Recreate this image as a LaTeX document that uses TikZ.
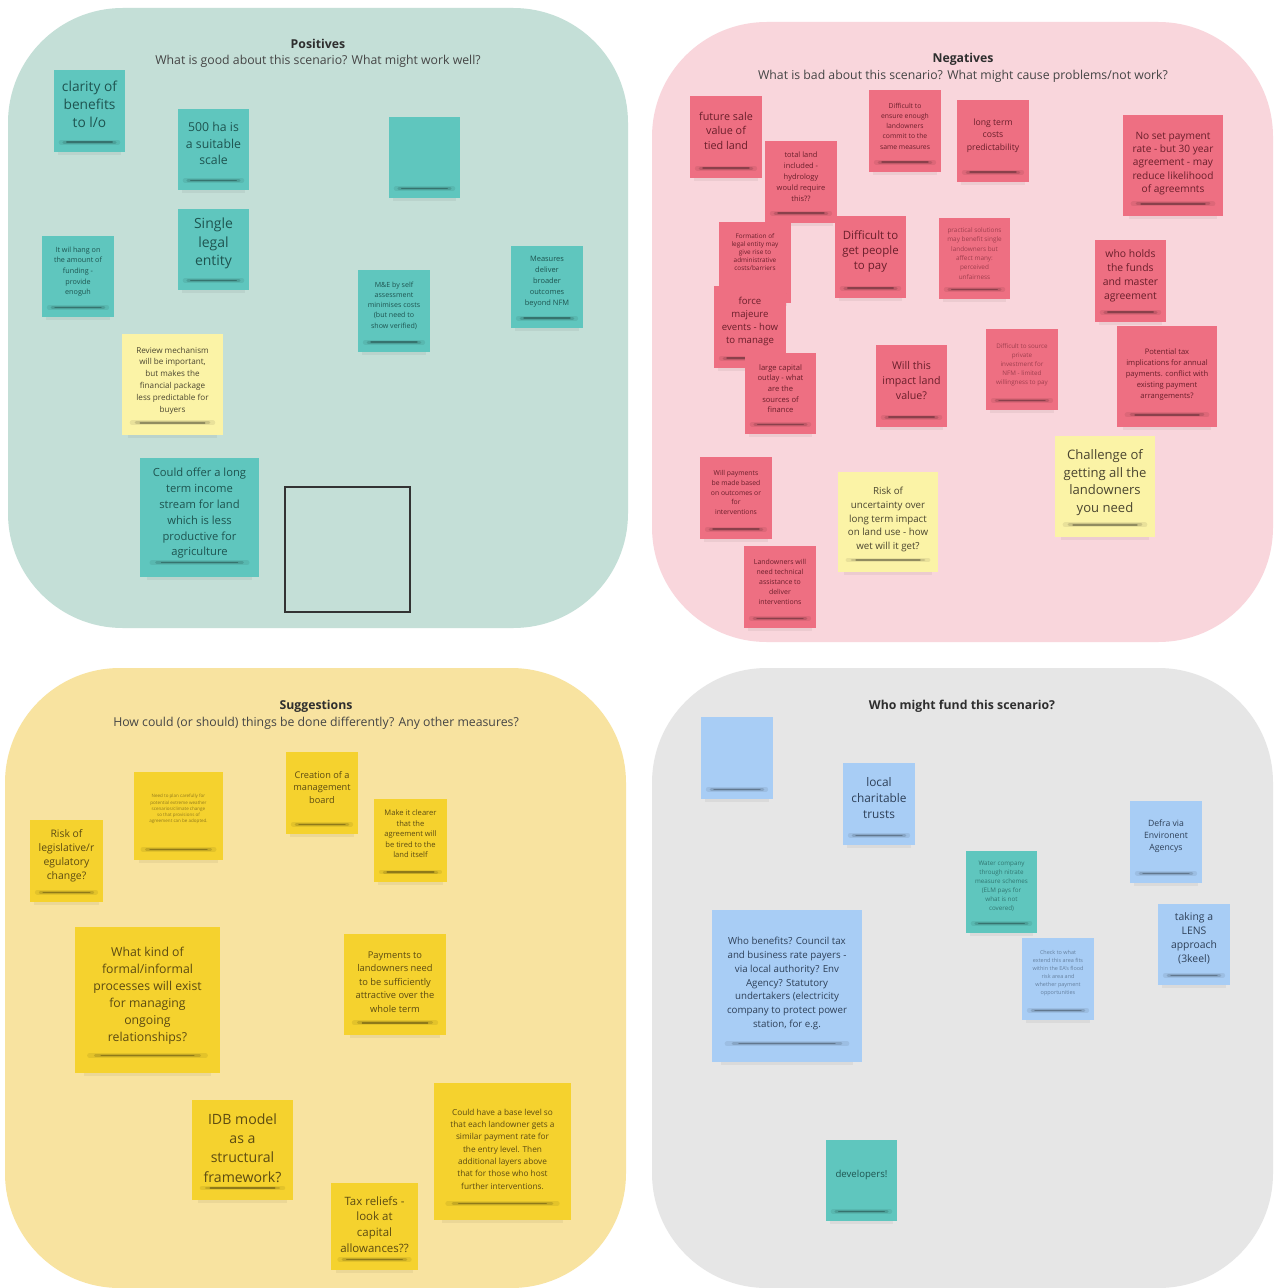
\documentclass[tikz,border=0pt]{standalone}
\usepackage{fontspec}
\setmainfont{Open Sans}
\definecolor{bgPos}{HTML}{C4DFD7}
\definecolor{bgNeg}{HTML}{F9D6DC}
\definecolor{bgSug}{HTML}{F8E3A0}
\definecolor{bgFund}{HTML}{E6E6E6}
\definecolor{tealN}{HTML}{5FC6BE}
\definecolor{tealT}{HTML}{1E5450}
\definecolor{pinkN}{HTML}{EE6F82}
\definecolor{pinkT}{HTML}{6A1F2B}
\definecolor{yelN}{HTML}{F5D22E}
\definecolor{yelT}{HTML}{5C4B12}
\definecolor{lyelN}{HTML}{FBF3A6}
\definecolor{lyelT}{HTML}{4A4530}
\definecolor{blueN}{HTML}{A8CDF5}
\definecolor{blueT}{HTML}{2E4058}
\definecolor{titleC}{HTML}{2E2E2E}
\definecolor{subC}{HTML}{454545}
\tikzset{
  teal fill/.style={fill=tealN},
  teal ink/.style={text=tealT, align=center, inner sep=0pt},
  tealf fill/.style={fill=tealN},
  tealf ink/.style={text=tealT!70!tealN, align=center, inner sep=0pt},
  pink fill/.style={fill=pinkN},
  pink ink/.style={text=pinkT, align=center, inner sep=0pt},
  pinkf fill/.style={fill=pinkN},
  pinkf ink/.style={text=pinkT!60!pinkN, align=center, inner sep=0pt},
  yel fill/.style={fill=yelN},
  yel ink/.style={text=yelT, align=center, inner sep=0pt},
  yelf fill/.style={fill=yelN},
  yelf ink/.style={text=yelT!65!yelN, align=center, inner sep=0pt},
  lyel fill/.style={fill=lyelN},
  lyel ink/.style={text=lyelT, align=center, inner sep=0pt},
  blue fill/.style={fill=blueN},
  blue ink/.style={text=blueT, align=center, inner sep=0pt},
  bluef fill/.style={fill=blueN},
  bluef ink/.style={text=blueT!55!blueN, align=center, inner sep=0pt},
  panel/.style={rounded corners=86pt},
  ptitle/.style={text=titleC, font=\fontsize{9.2}{11}\selectfont\bfseries, inner sep=0pt},
  psub/.style={text=subC, font=\fontsize{9.2}{11}\selectfont, inner sep=0pt},
  shadowa/.style={line cap=round, line width=3.6pt, black, opacity=0.07},
  shadowb/.style={line cap=round, line width=2.2pt, black, opacity=0.13},
  shadowc/.style={line cap=round, line width=1.0pt, black, opacity=0.28},
}
% \snote{name}{kind}{x1}{y1}{x2}{y2}{text y}{font}{text}
\newcommand\snote[9]{%
  \fill[#2 fill] (#3,#4) rectangle (#5,#6);
  \fill[black, opacity=0.05] ({#3+0.06*(#5-#3)},#6) rectangle ({#5-0.06*(#5-#3)},{#6+3});
  \draw[shadowa] ({#3+0.10*(#5-#3)},{#6-0.12*(#6-#4)}) -- ({#5-0.10*(#5-#3)},{#6-0.12*(#6-#4)});
  \draw[shadowb] ({#3+0.14*(#5-#3)},{#6-0.12*(#6-#4)}) -- ({#5-0.14*(#5-#3)},{#6-0.12*(#6-#4)});
  \draw[shadowc] ({#3+0.18*(#5-#3)},{#6-0.12*(#6-#4)}) -- ({#5-0.18*(#5-#3)},{#6-0.12*(#6-#4)});
  \node[#2 ink, font=#8] (#1) at ({(#3+#5)/2},#7) {#9};
}
\newcommand\fs[2]{\fontsize{#1}{#2}\selectfont}
\begin{document}
\begin{tikzpicture}[x=0.75pt,y=-0.75pt]
\useasboundingbox (0,0) rectangle (1275,1288);
\fill[white] (0,0) rectangle (1275,1288);
% panels
\fill[bgPos, panel] (8,8) rectangle (628,628);
\fill[bgNeg, panel] (652,22) rectangle (1273,642);
\fill[bgSug, panel] (5,668) rectangle (626,1288);
\fill[bgFund, panel] (652,668) rectangle (1273,1288);
% titles
\node[ptitle] (tpos) at (318,44) {Positives};
\node[psub] (spos) at (318,61) {What is good about this scenario? What might work well?};
\node[ptitle] (tneg) at (963,59) {Negatives};
\node[psub] (sneg) at (963,76) {What is bad about this scenario? What might cause problems/not work?};
\node[ptitle] (tsug) at (316,706) {Suggestions};
\node[psub] (ssug) at (316,723) {How could (or should) things be done differently? Any other measures?};
\node[ptitle] (tfund) at (962,706) {Who might fund this scenario?};
% ---------- Positives
\snote{p1}{teal}{54}{70}{125}{152}{104}{\fs{10.3}{13.5}}{clarity of\\benefits\\to l/o}
\snote{p2}{teal}{178}{109}{249}{190}{143.5}{\fs{9.2}{12.4}}{500 ha is\\a suitable\\scale}
\snote{p3}{teal}{389}{117}{460}{198}{150}{\fs{9}{12}}{}
\snote{p4}{teal}{178}{209}{249}{290}{243.5}{\fs{10.5}{13.9}}{Single\\legal\\entity}
\snote{p5}{teal}{42}{236}{114}{317}{271.5}{\fs{5.4}{8}}{It wil hang on\\the amount of\\funding -\\provide\\enoguh}
\snote{p6}{teal}{358}{270}{430}{352}{305.5}{\fs{5.3}{7.7}}{M\&E by self\\assessment\\minimises costs\\(but need to\\show verified)}
\snote{p7}{teal}{511}{246}{583}{328}{282}{\fs{5.6}{8.2}}{Measures\\deliver\\broader\\outcomes\\beyond NFM}
\snote{p8}{lyel}{122}{334}{223}{435}{380.5}{\fs{6.1}{8.85}}{Review mechanism\\will be important,\\but makes the\\financial package\\less predictable for\\buyers}
\snote{p9}{teal}{140}{458}{259}{577}{513.5}{\fs{8.4}{11.85}}{Could offer a long\\term income\\stream for land\\which is less\\productive for\\agriculture}
\draw[line width=1.1pt, black!80] (285,487) rectangle (410,612);
% ---------- Negatives
\snote{n1}{pink}{690}{96}{762}{178}{130.5}{\fs{8.1}{10.9}}{future sale\\value of\\tied land}
\snote{n2}{pink}{765}{141}{837}{223}{177}{\fs{5.6}{8.2}}{total land\\included -\\hydrology\\would require\\this??}
\snote{n3}{pink}{869}{90}{941}{172}{126}{\fs{5.1}{7.7}}{Difficult to\\ensure enough\\landowners\\commit to the\\same measures}
\snote{n4}{pink}{957}{100}{1029}{182}{135.5}{\fs{6.5}{9.2}}{long term\\costs\\predictability}
\snote{n5}{pink}{1123}{115}{1223}{216}{163.5}{\fs{7.6}{10}}{No set payment\\rate - but 30 year\\agreement - may\\reduce likelihood\\of agreemnts}
\snote{n6}{pink}{719}{222}{791}{303}{252}{\fs{4.8}{6.1}}{Formation of\\legal entity may\\give rise to\\administrative\\costs/barriers}
\snote{n7}{pink}{835}{216}{906}{298}{251.5}{\fs{8.6}{11.6}}{Difficult to\\get people\\to pay}
\snote{n8}{pinkf}{939}{218}{1010}{299}{253.5}{\fs{4.8}{7}}{practical solutions\\may benefit single\\landowners but\\affect many:\\perceived\\unfairness}
\snote{n9}{pink}{1095}{240}{1166}{322}{276}{\fs{7.8}{10.5}}{who holds\\the funds\\and master\\agreement}
\snote{n10}{pink}{714}{286}{786}{368}{321.5}{\fs{7.2}{9.8}}{force\\majeure\\events - how\\to manage}
\snote{n11}{pink}{745}{353}{816}{434}{388.5}{\fs{5.7}{8}}{large capital\\outlay - what\\are the\\sources of\\finance}
\snote{n12}{pink}{876}{345}{947}{427}{380.5}{\fs{8}{10.9}}{Will this\\impact land\\value?}
\snote{n13}{pinkf}{986}{329}{1058}{410}{365}{\fs{4.7}{6.8}}{Difficult to source\\private\\investment for\\NFM - limited\\willingness to pay}
\snote{n14}{pink}{1117}{326}{1217}{427}{374.5}{\fs{5.7}{8.1}}{Potential tax\\implications for annual\\payments. conflict with\\existing payment\\arrangements?}
\snote{n15}{pink}{700}{457}{772}{539}{492.5}{\fs{5.1}{7.3}}{Will payments\\be made based\\on outcomes or\\for\\interventions}
\snote{n16}{lyel}{838}{472}{938}{572}{519.5}{\fs{7.3}{10.2}}{Risk of\\uncertainty over\\long term impact\\on land use - how\\wet will it get?}
\snote{n17}{lyel}{1055}{436}{1155}{537}{482.5}{\fs{9.8}{13.3}}{Challenge of\\getting all the\\landowners\\you need}
\snote{n18}{pink}{744}{546}{816}{628}{582}{\fs{5.2}{7.5}}{Landowners will\\need technical\\assistance to\\deliver\\interventions}
% ---------- Suggestions
\snote{s1}{yel}{30}{820}{103}{902}{856}{\fs{7.8}{10.5}}{Risk of\\legislative/r\\egulatory\\change?}
\snote{s2}{yelf}{134}{772}{223}{860}{809}{\fs{3.4}{4.6}}{Need to plan carefully for\\potential extreme weather\\scenarios/climate change\\so that provisions of\\agreement can be adopted.}
\snote{s3}{yel}{286}{752}{358}{834}{787.5}{\fs{6.9}{9.4}}{Creation of a\\management\\board}
\snote{s4}{yel}{374}{799}{447}{882}{834}{\fs{5.7}{7.9}}{Make it clearer\\that the\\agreement will\\be tired to the\\land itself}
\snote{s5}{yel}{75}{927}{220}{1073}{995.5}{\fs{9.2}{12.8}}{What kind of\\formal/informal\\processes will exist\\for managing\\ongoing\\relationships?}
\snote{s6}{yel}{344}{934}{446}{1035}{982}{\fs{7}{10.2}}{Payments to\\landowners need\\to be sufficiently\\attractive over the\\whole term}
\snote{s7}{yel}{192}{1100}{293}{1200}{1148}{\fs{10.6}{14.5}}{IDB model\\as a\\structural\\framework?}
\snote{s8}{yel}{434}{1083}{571}{1220}{1149}{\fs{6.2}{9.25}}{Could have a base level so\\that each landowner gets a\\similar payment rate for\\the entry level. Then\\additional layers above\\that for those who host\\further interventions.}
\snote{s9}{yel}{331}{1183}{418}{1270}{1224.5}{\fs{8.6}{11.8}}{Tax reliefs -\\look at\\capital\\allowances??}
% ---------- Who might fund
\snote{f1}{blue}{701}{717}{773}{799}{750}{\fs{8}{10}}{}
\snote{f2}{blue}{843}{763}{915}{845}{798}{\fs{8.9}{12}}{local\\charitable\\trusts}
\snote{f3}{blue}{1130}{801}{1202}{883}{836}{\fs{6.5}{9}}{Defra via\\Environent\\Agencys}
\snote{f4}{tealf}{966}{851}{1037}{933}{886.5}{\fs{4.7}{6.75}}{Water company\\through nitrate\\measure schemes\\(ELM pays for\\what is not\\covered)}
\snote{f5}{blue}{1158}{904}{1230}{985}{938}{\fs{7.8}{10.5}}{taking a\\LENS\\approach\\(3keel)}
\snote{f6}{blue}{712}{910}{862}{1062}{983.5}{\fs{7.3}{10.4}}{Who benefits? Council tax\\and business rate payers -\\via local authority? Env\\Agency? Statutory\\undertakers (electricity\\company to protect power\\station, for e.g.}
\snote{f7}{bluef}{1022}{938}{1094}{1020}{973}{\fs{4.1}{6}}{Check to what\\extend this area fits\\within the EA's flood\\risk area and\\whether payment\\opportunities}
\snote{f8}{teal}{826}{1140}{897}{1221}{1175}{\fs{7.2}{9}}{developers!}
\end{tikzpicture}
\end{document}
